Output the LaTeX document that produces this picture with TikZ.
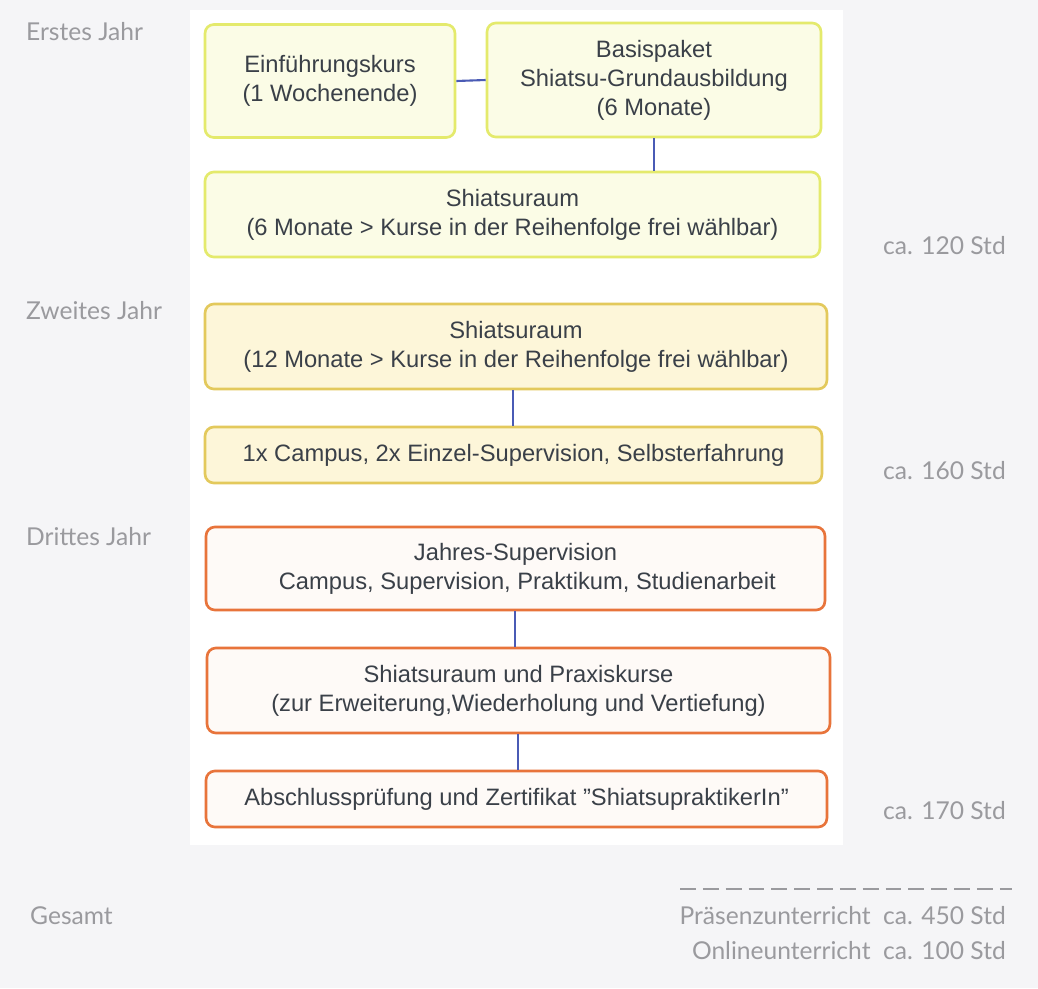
\documentclass[tikz,border=0pt]{standalone}
\usepackage{fontspec}
\setmainfont{Liberation Sans}
\newfontfamily\labelfont{Lato}
\usetikzlibrary{positioning}
\definecolor{bgray}{HTML}{F5F5F7}
\definecolor{lgray}{HTML}{9A9A9E}
\definecolor{ytone}{HTML}{E4EA6C}
\definecolor{yfill}{HTML}{FBFCE6}
\definecolor{gtone}{HTML}{E3C95C}
\definecolor{gfill}{HTML}{FDF6D9}
\definecolor{otone}{HTML}{E8743B}
\definecolor{ofill}{HTML}{FEFAF7}
\definecolor{ctone}{HTML}{4A5BB5}
\definecolor{tdark}{HTML}{3A4048}
\begin{document}
\begin{tikzpicture}[%
  x=0.02cm, y=-0.02cm,
  every node/.style={font=\fontsize{13.5}{16.5}\selectfont, text=tdark, align=center},
  boxA/.style={draw=ytone, fill=yfill, line width=1.5pt, rounded corners=5pt},
  boxB/.style={draw=gtone, fill=gfill, line width=1.5pt, rounded corners=5pt},
  boxC/.style={draw=otone, fill=ofill, line width=1.5pt, rounded corners=5pt},
  link/.style={draw=ctone, line width=1.2pt},
  side/.style={font=\labelfont\fontsize{14}{17}\selectfont, text=lgray}
]

  \fill[bgray] (0,0) rectangle (1038,988);
  \fill[white] (190,10) rectangle (843,845);

  % erstes Jahr
  \node[boxA, minimum width=5cm, minimum height=2.26cm] (kurs) at (330,81)
    {Einführungskurs\\(1 Wochenende)};
  \node[boxA, minimum width=6.68cm, minimum height=2.28cm] (basis) at (654,80)
    {Basispaket\\Shiatsu-Grundausbildung\\(6 Monate)};
  \node[boxA, minimum width=12.3cm, minimum height=1.7cm] (raumA) at (512.5,214.5)
    {Shiatsuraum\\(6 Monate > Kurse in der Reihenfolge frei wählbar)};

  % zweites Jahr
  \node[boxB, minimum width=12.44cm, minimum height=1.7cm] (raumB) at (516,346.5)
    {Shiatsuraum\\(12 Monate > Kurse in der Reihenfolge frei wählbar)};
  \node[boxB, minimum width=12.34cm, minimum height=1.12cm] (campus) at (513.5,455)
    {1x Campus, 2x Einzel-Supervision, Selbsterfahrung};

  % drittes Jahr
  \node[boxC, minimum width=12.38cm, minimum height=1.66cm] (jahr) at (515.5,568.5)
    {Jahres-Supervision\\\quad Campus, Supervision, Praktikum, Studienarbeit};
  \node[boxC, minimum width=12.46cm, minimum height=1.7cm] (praxis) at (518.5,690.5)
    {Shiatsuraum und Praxiskurse\\(zur Erweiterung,Wiederholung und Vertiefung)};
  \node[boxC, minimum width=12.42cm, minimum height=1.12cm] (pruef) at (516.5,799)
    {Abschlussprüfung und Zertifikat "ShiatsupraktikerIn"};

  \draw[link] (kurs.east) -- (basis.west);
  \draw[link] (basis.south) -- (raumA.north -| basis.south);
  \draw[link] (raumB.south -| 513,0) -- (campus.north -| 513,0);
  \draw[link] (jahr.south -| 515,0) -- (praxis.north -| 515,0);
  \draw[link] (praxis.south -| 518,0) -- (pruef.north -| 518,0);

  \node[side, anchor=west] (erstes) at (20,32) {Erstes Jahr};
  \node[side, anchor=west] (zweites) at (20,311) {Zweites Jahr};
  \node[side, anchor=west] (drittes) at (20,537) {Drittes Jahr};
  \node[side, anchor=west] (gesamt) at (24,916) {Gesamt};
  \node[side, anchor=east] (stdA) at (1012,246) {ca. 120 Std};
  \node[side, anchor=east] (stdB) at (1012,471) {ca. 160 Std};
  \node[side, anchor=east] (stdC) at (1012,811) {ca. 170 Std};
  \draw[lgray, line width=0.8pt, dash pattern=on 9pt off 4pt] (680,889) -- (1012,889);
  \node[side, anchor=east] (praes) at (1012,916) {Präsenzunterricht\ \ ca. 450 Std};
  \node[side, anchor=east] (online) at (1012,951) {Onlineunterricht\ \ ca. 100 Std};

\end{tikzpicture}
\end{document}
